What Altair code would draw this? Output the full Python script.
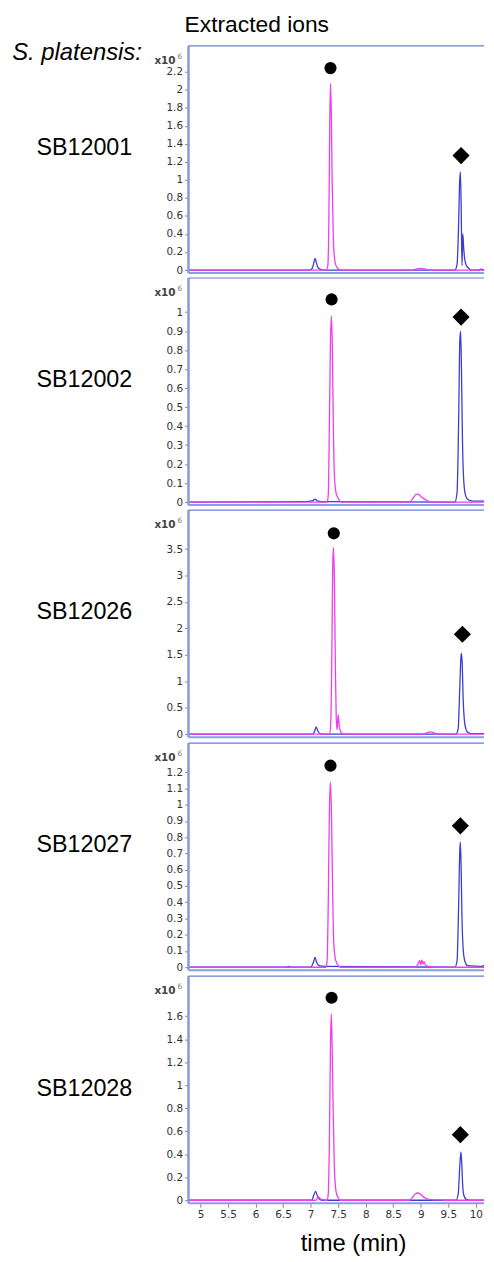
import altair as alt
import pandas as pd

samples = ["SB12001", "SB12002", "SB12026", "SB12027", "SB12028"]

# magenta trace (time in min, intensity x10^6)
mag_t = [
    [4.78, 7.28, 7.31, 7.33, 7.345, 7.36, 7.375, 7.39, 7.41, 7.43, 7.46, 7.50, 7.55, 8.85, 8.93, 9.0, 9.07, 9.15, 10.3],
    [4.78, 7.30, 7.32, 7.34, 7.36, 7.378, 7.395, 7.41, 7.43, 7.46, 7.50, 7.55, 8.80, 8.86, 8.92, 8.96, 9.02, 9.10, 9.2, 10.3],
    [4.78, 7.34, 7.365, 7.385, 7.40, 7.414, 7.43, 7.45, 7.465, 7.48, 7.50, 7.52, 7.55, 7.6, 9.05, 9.12, 9.17, 9.23, 9.3, 10.3],
    [4.78, 7.28, 7.30, 7.32, 7.34, 7.36, 7.38, 7.40, 7.42, 7.45, 7.50, 7.55, 8.9, 8.95, 8.98, 9.00, 9.02, 9.04, 9.06, 9.09, 9.15, 9.25, 10.3],
    [4.78, 7.10, 7.14, 7.18, 7.30, 7.32, 7.34, 7.36, 7.375, 7.39, 7.41, 7.43, 7.46, 7.50, 7.54, 8.80, 8.85, 8.90, 8.95, 9.0, 9.06, 9.15, 9.25, 9.38, 9.42, 10.3],
]
mag_v = [
    [0, 0, 0.04, 0.5, 1.5, 2.07, 1.75, 1.0, 0.4, 0.15, 0.05, 0.015, 0, 0, 0.012, 0.018, 0.012, 0, 0],
    [0, 0, 0.04, 0.4, 0.85, 0.98, 0.8, 0.45, 0.15, 0.05, 0.02, 0, 0, 0.02, 0.042, 0.04, 0.025, 0.01, 0, 0],
    [0, 0, 0.2, 1.5, 3.1, 3.53, 3.0, 1.2, 0.3, 0.08, 0.37, 0.15, 0.04, 0, 0, 0.03, 0.045, 0.03, 0, 0],
    [0, 0, 0.05, 0.4, 0.95, 1.14, 0.9, 0.45, 0.15, 0.05, 0.01, 0, 0, 0.02, 0.04, 0.015, 0.045, 0.02, 0.035, 0.01, 0.005, 0, 0],
    [0, 0, 0.03, 0.01, 0, 0.06, 0.5, 1.35, 1.62, 1.35, 0.75, 0.3, 0.08, 0.02, 0, 0, 0.025, 0.055, 0.063, 0.05, 0.025, 0.008, 0.004, 0.003, 0, 0],
]

# blue trace
blue_t = [
    [4.78, 6.98, 7.03, 7.06, 7.08, 7.10, 7.13, 7.17, 7.22, 9.62, 9.66, 9.69, 9.705, 9.72, 9.735, 9.75, 9.765, 9.78, 9.80, 9.83, 9.87, 9.92, 10.05, 10.1, 10.15, 10.2, 10.25, 10.3],
    [4.78, 6.9, 7.04, 7.08, 7.12, 7.2, 9.62, 9.66, 9.69, 9.71, 9.725, 9.74, 9.76, 9.78, 9.81, 9.85, 9.95, 10.15, 10.2, 10.25, 10.3],
    [4.78, 7.03, 7.07, 7.10, 7.13, 7.17, 7.25, 9.64, 9.68, 9.71, 9.73, 9.74, 9.755, 9.77, 9.79, 9.82, 9.86, 9.92, 10.1, 10.2, 10.25, 10.3],
    [4.78, 6.55, 6.6, 6.65, 7.0, 7.05, 7.08, 7.11, 7.15, 7.25, 9.62, 9.66, 9.69, 9.71, 9.72, 9.735, 9.75, 9.77, 9.80, 9.85, 10.1, 10.2, 10.3],
    [4.78, 7.02, 7.06, 7.09, 7.12, 7.16, 7.22, 9.64, 9.68, 9.71, 9.73, 9.745, 9.76, 9.78, 9.82, 9.9, 10.15, 10.2, 10.25, 10.3],
]
blue_v = [
    [0, 0, 0.02, 0.09, 0.13, 0.09, 0.03, 0.01, 0, 0, 0.06, 0.55, 0.95, 1.09, 0.7, 0.05, 0.40, 0.25, 0.12, 0.05, 0.02, 0, 0, 0.01, 0, 0.015, 0.01, 0],
    [0, 0.002, 0.008, 0.015, 0.006, 0.002, 0, 0.05, 0.45, 0.85, 0.9, 0.7, 0.3, 0.12, 0.04, 0.015, 0.005, 0.005, 0.02, 0.015, 0.008],
    [0, 0, 0.05, 0.14, 0.06, 0.01, 0, 0, 0.1, 0.9, 1.45, 1.53, 1.3, 0.7, 0.3, 0.1, 0.03, 0.01, 0.01, 0.02, 0.03, 0.01],
    [0, 0, 0.006, 0, 0, 0.03, 0.06, 0.03, 0.01, 0.005, 0, 0.04, 0.4, 0.72, 0.77, 0.6, 0.3, 0.12, 0.04, 0.01, 0.005, 0.015, 0.005],
    [0, 0, 0.05, 0.078, 0.04, 0.01, 0, 0, 0.05, 0.3, 0.42, 0.33, 0.15, 0.05, 0.01, 0, 0, 0.01, 0.01, 0.005],
]

# peak markers
circle_t = [7.36, 7.38, 7.42, 7.36, 7.38]
circle_v = [2.24, 1.067, 3.80, 1.24, 1.76]
diamond_t = [9.733, 9.733, 9.757, 9.72, 9.72]
diamond_v = [1.27, 0.974, 1.89, 0.87, 0.57]

# axes
y_lo = [-0.033, -0.016, -0.056, -0.018, -0.026]
y_hi = [2.486, 1.180, 4.240, 1.379, 1.948]
y_ticks = [
    [0, 0.2, 0.4, 0.6, 0.8, 1, 1.2, 1.4, 1.6, 1.8, 2, 2.2],
    [0, 0.1, 0.2, 0.3, 0.4, 0.5, 0.6, 0.7, 0.8, 0.9, 1],
    [0, 0.5, 1, 1.5, 2, 2.5, 3, 3.5],
    [0, 0.1, 0.2, 0.3, 0.4, 0.5, 0.6, 0.7, 0.8, 0.9, 1, 1.1, 1.2],
    [0, 0.2, 0.4, 0.6, 0.8, 1, 1.2, 1.4, 1.6],
]
x_domain = [4.78, 10.15]
x_ticks = [5, 5.5, 6, 6.5, 7, 7.5, 8, 8.5, 9, 9.5, 10]

W, H = 298, 229
label_y = [110, 110, 110, 110, 121]
FONT = "Liberation Sans"
one = alt.Data(values=[{}])


def txt(text, x, y, **kw):
    return alt.Chart(one).mark_text(text=text, **kw).encode(x=alt.value(x), y=alt.value(y))


def panel(i):
    df = pd.concat([
        pd.DataFrame({"t": blue_t[i], "v": blue_v[i], "trace": "blue"}),
        pd.DataFrame({"t": mag_t[i], "v": mag_v[i], "trace": "magenta"}),
    ])
    xs = alt.Scale(domain=x_domain, nice=False, zero=False)
    ys = alt.Scale(domain=[y_lo[i], y_hi[i]], nice=False, zero=False)
    last = i == len(samples) - 1
    if last:
        xaxis = alt.Axis(values=x_ticks, tickCount=50, format="~g", title="time (min)", grid=False, domain=False,
                         tickSize=4, tickColor="#888", labelColor="#333", labelFont="DejaVu Sans",
                         labelFontSize=10.5, labelPadding=2, labelFlush=False, labelOverlap=False,
                         titleFont=FONT, titleFontSize=24, titleFontWeight="normal", titleColor="black",
                         titleX=166, titleY=48, titleAlign="center", titleBaseline="alphabetic")
    else:
        xaxis = None
    yaxis = alt.Axis(values=y_ticks[i], tickCount=50, format="~g", title=None, grid=False, domain=False,
                     tickSize=4, tickColor="#888", labelColor="#333", labelFont="DejaVu Sans",
                     labelFontSize=10.5, labelPadding=2, labelFlush=False, labelOverlap=False)
    lines = alt.Chart(df).mark_line(strokeWidth=1.3, interpolate="monotone", clip=True).encode(
        x=alt.X("t:Q", scale=xs, axis=xaxis),
        y=alt.Y("v:Q", scale=ys, axis=yaxis),
        color=alt.Color("trace:N", scale=alt.Scale(domain=["blue", "magenta"], range=["#3b3bd8", "#ee3cee"]), legend=None),
    )
    mk = pd.DataFrame({"t": [circle_t[i], diamond_t[i]], "v": [circle_v[i], diamond_v[i]],
                       "marker": ["circle", "diamond"]})
    pts = alt.Chart(mk).mark_point(filled=True, opacity=1, color="black").encode(
        x="t:Q", y="v:Q",
        shape=alt.Shape("marker:N", scale=alt.Scale(domain=["circle", "diamond"], range=["circle", "diamond"]), legend=None),
        size=alt.Size("marker:O", scale=alt.Scale(domain=["circle", "diamond"], range=[150, 300]), legend=None),
    )
    left = alt.Chart(one).mark_rule(color="#8898e0", strokeWidth=2.5).encode(
        x=alt.value(0), y=alt.value(0), y2=alt.value(H))
    top = alt.Chart(one).mark_rule(color="#6b7fdc", strokeWidth=1.2).encode(
        x=alt.value(0), x2=alt.value(W), y=alt.value(0))
    bottom = alt.Chart(one).mark_rule(color="#8c9de0", strokeWidth=2).encode(
        x=alt.value(0), x2=alt.value(W), y=alt.value(H))
    layers = [lines, pts, left, top, bottom,
              txt("x10", -13, 18, align="right", baseline="alphabetic", font="DejaVu Sans",
                  fontSize=10.5, fontWeight="bold", color="#444"),
              txt("6", -11, 13, align="left", baseline="alphabetic", font="DejaVu Sans",
                  fontSize=7.5, color="#777"),
              txt(samples[i], -105, label_y[i], align="center", baseline="alphabetic", font=FONT,
                  fontSize=23.5, color="black")]
    if i == 0:
        layers += [
            txt("S. platensis:", -47, 14, align="right", baseline="alphabetic", font=FONT,
                fontSize=24, fontStyle="italic", color="black"),
            txt("Extracted ions", -4, -14, align="left", baseline="alphabetic", font=FONT,
                fontSize=23, color="black"),
        ]
    return alt.layer(*layers).properties(width=W, height=H)


chart = alt.vconcat(*[panel(i) for i in range(len(samples))], spacing=0).resolve_scale(
    x="independent", y="independent", color="independent", shape="independent", size="independent"
).properties(
    padding={"left": 3, "top": 0, "right": 0, "bottom": 0}
).configure_view(stroke="transparent")

chart.save("out.html", embed_options={"renderer": "svg", "actions": False})
